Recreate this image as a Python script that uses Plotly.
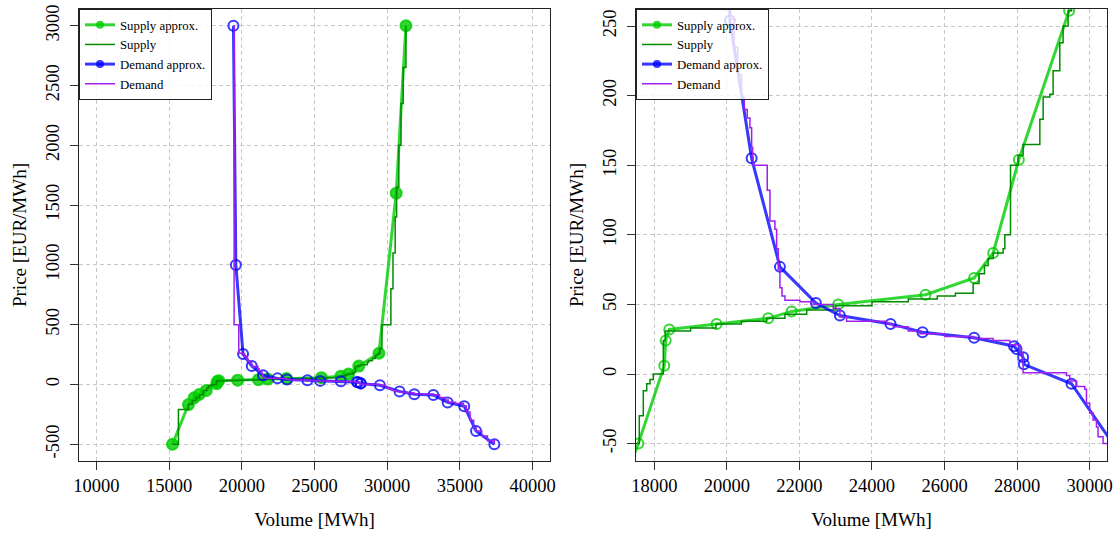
import plotly.graph_objects as go

# ---------------- data ----------------
# step curves (volume MWh, price EUR/MWh), drawn as horizontal-then-vertical steps
supply_vol = [15230, 15640, 16328, 16600, 16850, 17100, 17350, 17587, 17697, 17791, 17882, 17972,
              18248, 18300, 19000, 19700, 20400, 21100, 21600, 22200, 23000, 24000, 25000, 25800,
              26300, 26788, 26950, 27100, 27200, 27339, 27614, 27661, 27818, 28028, 28165, 28626,
              28717, 28901, 28992, 29176, 29267, 29405, 29500, 29640, 30254, 30400, 30550, 30650,
              30800, 30950, 31100, 31290]
supply_price = [-500, -210, -165, -135, -110, -85, -50, -30, -12, -7, -4, 0,
                24, 31, 33, 36, 38, 40, 43, 46, 49, 52, 54, 56,
                58, 65, 72, 78, 83, 87, 90, 100, 150, 157, 165, 183,
                199, 201, 218, 238, 250, 261, 300, 500, 800, 1100, 1400, 1650,
                2000, 2350, 2650, 3000]

demand_vol = [19424, 19470, 19790, 20085, 20200, 20300, 20407, 20480, 20562, 20636, 20683, 20711,
              20727, 21113, 21188, 21325, 21372, 21416, 21463, 21520, 21601, 22014, 22380, 22931,
              23116, 23300, 24402, 24584, 25000, 25320, 26000, 26796, 27340, 27799, 28074, 28165,
              29361, 29452, 29636, 29865, 29911, 30000, 30093, 30186, 30231, 30369, 30600, 30885,
              31400, 31868, 32500, 33176, 33600, 34000, 34200, 34700, 35240, 35450, 35700, 35950,
              36112, 36500, 36900, 37372]
demand_price = [3000, 500, 262, 255, 235, 215, 199, 190, 184, 177, 163, 156,
                150, 132, 110, 104, 90, 75, 62, 56, 53, 52, 50, 47,
                41, 38, 36, 34, 31, 29, 27, 25.5, 24, 21, 15, 1,
                -1, -5, -9, -11, -21, -28, -33, -38, -45, -50, -58, -65,
                -72, -79, -82, -85, -110, -130, -148, -160, -180, -230, -300, -360,
                -390, -430, -470, -500]

# piecewise-linear approximations (knots)
supply_approx_vol = [15230, 16328, 16720, 17064, 17560, 18275, 18314, 18413, 19719, 21140, 21785,
                     23069, 25476, 26815, 27340, 28047, 29433, 30620, 31290]
supply_approx_price = [-500, -168, -112, -84, -50, 6, 24, 32, 36, 40, 45,
                       50, 57, 69, 87, 154, 261, 1600, 3000]

demand_approx_vol = [19424, 19590, 20085, 20683, 21463, 22455, 23116, 24512, 25393, 26815, 27917,
                     27983, 28165, 28185, 29498, 30850, 31868, 33176, 34160, 35300, 36112, 37372]
demand_approx_price = [3000, 1000, 254, 155, 77, 51, 42, 36, 30, 26, 20,
                       18, 12, 7, -7, -58, -82, -88, -150, -182, -390, -500]

# axes
left_xticks = [10000, 15000, 20000, 25000, 30000, 35000, 40000]
left_yticks = [-500, 0, 500, 1000, 1500, 2000, 2500, 3000]
right_xticks = [18000, 20000, 22000, 24000, 26000, 28000, 30000]
right_yticks = [-50, 0, 50, 100, 150, 200, 250]
left_xrange = [8800, 41200]
left_yrange = [-640, 3140]
right_xrange = [17496, 30477]
right_yrange = [-62.5, 262.3]

names = ["Supply approx.", "Supply", "Demand approx.", "Demand"]

# ---------------- style ----------------
FONT = "'Liberation Serif', 'Times New Roman', Times, serif"
C_SA = "rgba(0,205,0,0.8)"
C_S = "#008B00"
C_DA = "rgba(0,0,255,0.78)"
C_D = "#A020F0"

fig = go.Figure()

def add_panel(xa, ya, leg, supply_filled):
    fig.add_trace(go.Scatter(
        x=supply_approx_vol, y=supply_approx_price, mode="lines+markers",
        line=dict(color=C_SA, width=3),
        marker=dict(symbol="circle" if supply_filled else "circle-open", size=11 if supply_filled else 10,
                    color=C_SA, line=dict(width=2, color=C_SA)),
        xaxis=xa, yaxis=ya, showlegend=False))
    fig.add_trace(go.Scatter(
        x=supply_vol, y=supply_price, mode="lines", line=dict(color=C_S, width=1.5, shape="hv"),
        xaxis=xa, yaxis=ya, showlegend=False))
    fig.add_trace(go.Scatter(
        x=demand_approx_vol, y=demand_approx_price, mode="lines+markers",
        line=dict(color=C_DA, width=3),
        marker=dict(symbol="circle-open", size=10, color=C_DA, line=dict(width=2, color=C_DA)),
        xaxis=xa, yaxis=ya, showlegend=False))
    fig.add_trace(go.Scatter(
        x=demand_vol, y=demand_price, mode="lines", line=dict(color=C_D, width=1.5, shape="hv"),
        xaxis=xa, yaxis=ya, showlegend=False))
    specs = [(C_SA, 3, True), (C_S, 1.5, False), (C_DA, 3, True), (C_D, 1.5, False)]
    for nm, (c, w, mk) in zip(names, specs):
        fig.add_trace(go.Scatter(
            x=[None], y=[None], name=nm, mode="lines+markers" if mk else "lines",
            line=dict(color=c, width=w), marker=dict(symbol="circle", size=8, color=c),
            xaxis=xa, yaxis=ya, legend=leg, showlegend=True))

add_panel("x", "y", "legend", True)
add_panel("x2", "y2", "legend2", False)

TICKFONT = dict(family=FONT, size=18.5, color="black")
TITLEFONT = dict(family=FONT, size=19, color="black")

def axis(rng, ticks, title, standoff, **kw):
    return dict(
        range=rng, tickmode="array", tickvals=ticks, ticktext=[str(t) for t in ticks],
        showline=True, mirror=True, linecolor="#222", linewidth=1,
        ticks="outside", ticklen=8, tickwidth=1, tickcolor="#333",
        showgrid=True, gridcolor="#c8c8c8", gridwidth=1, griddash="4px,3px",
        zeroline=False, tickfont=TICKFONT, automargin=False,
        title=dict(text=title, font=TITLEFONT, standoff=standoff), **kw)

d1 = (550 - 79) / (1107 - 79)
d2 = (636 - 79) / (1107 - 79)

LEGFONT = dict(family=FONT, size=12.8, color="black")

fig.update_layout(
    width=1118, height=533,
    margin=dict(l=79, r=11, t=9, b=72),
    paper_bgcolor="white", plot_bgcolor="white",
    font=dict(family=FONT, color="black", size=13),
    xaxis=axis(left_xrange, left_xticks, "Volume [MWh]", 17, domain=[0, d1]),
    yaxis=axis(left_yrange, left_yticks, "Price [EUR/MWh]", 10, tickangle=-90, ticklabelstandoff=4),
    xaxis2=axis(right_xrange, right_xticks, "Volume [MWh]", 17, domain=[d2, 1], anchor="y2"),
    yaxis2=axis(right_yrange, right_yticks, "Price [EUR/MWh]", 10, tickangle=-90, anchor="x2",
                ticklabelstandoff=4),
    legend=dict(x=0, y=1, xanchor="left", yanchor="top", bgcolor="rgba(255,255,255,0.8)",
                bordercolor="#222", borderwidth=1, font=LEGFONT, tracegroupgap=0, itemwidth=30),
    legend2=dict(x=d2, y=1, xanchor="left", yanchor="top", bgcolor="rgba(255,255,255,0.8)",
                 bordercolor="#222", borderwidth=1, font=LEGFONT, tracegroupgap=0, itemwidth=30),
)

fig.write_html("out.html")
